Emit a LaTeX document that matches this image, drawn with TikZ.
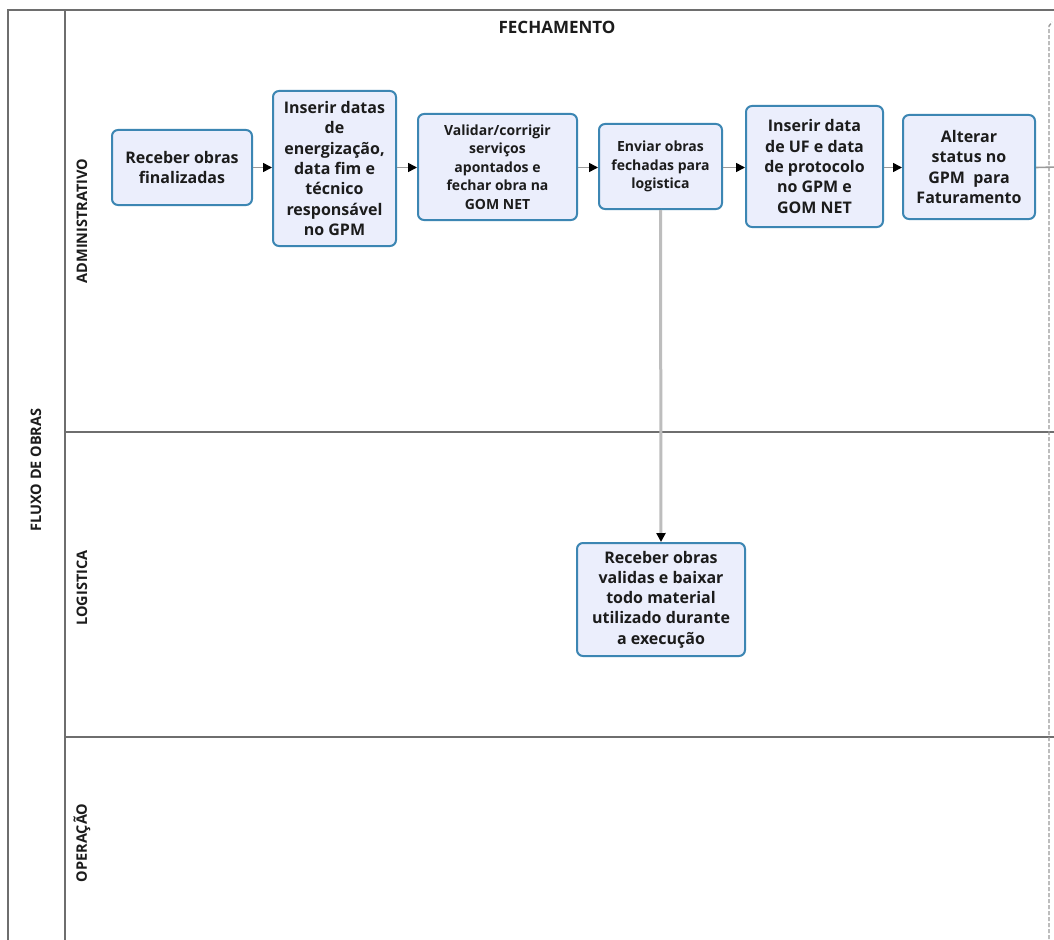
\documentclass[tikz,border=0pt]{standalone}
\usepackage{fontspec}
\setmainfont{Open Sans}
\usetikzlibrary{arrows.meta}
\definecolor{laneline}{HTML}{6E6E6E}
\definecolor{boxborder}{HTML}{3C86B3}
\definecolor{boxfill}{HTML}{EBEEFC}
\definecolor{flowgray}{HTML}{9A9A9A}
\definecolor{linkgray}{HTML}{BDBDBD}
\definecolor{inktext}{HTML}{1C1C1C}
\tikzset{
  task/.style={draw=boxborder, fill=boxfill, line width=2pt, rounded corners=6pt,
    align=center, text=inktext, font=\bfseries\fontsize{16}{20.3}\selectfont,
    inner sep=2pt},
  smalltask/.style={task, font=\bfseries\fontsize{14}{18.5}\selectfont},
  flow/.style={draw=flowgray, line width=1.6pt, -{Triangle[black,length=9pt,width=9pt]}},
  link/.style={draw=linkgray, line width=3pt, -{Triangle[black,length=9pt,width=9pt]}},
  frame/.style={draw=laneline, line width=1.6pt},
  lanelabel/.style={rotate=90, text=inktext, font=\bfseries\fontsize{14.5}{16}\selectfont},
  toplabel/.style={text=inktext, font=\bfseries\fontsize{17}{19}\selectfont},
  boundary/.style={draw=flowgray, line width=1.4pt, dash pattern=on 4pt off 2pt}
}
\begin{document}
\begin{tikzpicture}[x=1pt, y=-1pt]
\useasboundingbox (0,0) rectangle (1054,939);
\fill[white] (0,0) rectangle (1054,939);
\begin{scope}
\clip (0,0) rectangle (1054,939);
% pool frame and lane separators
\draw[frame] (8,945) -- (8,10) -- (1060,10);
\draw[frame] (65,10) -- (65,945);
\draw[frame] (65,432) -- (1060,432);
\draw[frame] (65,737) -- (1060,737);
% phase boundary
\draw[boundary] (1049,945) -- (1049,26) -- (1052,22);
% labels
\node[toplabel] (phase) at (557,27) {FECHAMENTO};
\node[lanelabel] (pool) at (36,470) {FLUXO DE OBRAS};
\node[lanelabel] (adm) at (82,221) {ADMINISTRATIVO};
\node[lanelabel] (log) at (82,588) {LOGISTICA};
\node[lanelabel] (ope) at (82,843) {OPERAÇÃO};
% tasks
\node[task, minimum width=140pt, minimum height=75pt] (t1) at (182,167.5)
  {Receber obras\\finalizadas};
\node[task, minimum width=123pt, minimum height=155pt] (t2) at (334.5,168.5)
  {Inserir datas\\de\\energização,\\data fim e\\técnico\\responsável\\no GPM};
\node[smalltask, minimum width=159pt, minimum height=106pt] (t3) at (497.5,167)
  {Validar/corrigir\\serviços\\apontados e\\fechar obra na\\GOM NET};
\node[smalltask, minimum width=123pt, minimum height=85pt] (t4) at (660.5,166.5)
  {Enviar obras\\fechadas para\\logistica};
\node[task, minimum width=137pt, minimum height=121pt] (t5) at (814.5,166.5)
  {Inserir data\\de UF e data\\de protocolo\\no GPM e\\GOM NET};
\node[task, minimum width=132pt, minimum height=104pt] (t6) at (969,167)
  {Alterar\\status no\\GPM\ \ para\\Faturamento};
\node[task, minimum width=168pt, minimum height=113pt] (t7) at (661,599.5)
  {Receber obras\\validas e baixar\\todo material\\utilizado durante\\a execução};
\coordinate (out) at (1060,167);
% sequence flows
\draw[flow] (t1.east) -- (t1.east -| t2.west);
\draw[flow] (t2.east |- t1.east) -- (t1.east -| t3.west);
\draw[flow] (t3.east |- t1.east) -- (t1.east -| t4.west);
\draw[flow] (t4.east |- t1.east) -- (t1.east -| t5.west);
\draw[flow] (t5.east |- t1.east) -- (t1.east -| t6.west);
\draw[draw=flowgray, line width=1.6pt] (t6.east |- t1.east) -- (out);
\draw[link] (t4.south) -- (t7.north);
\end{scope}
\end{tikzpicture}
\end{document}
